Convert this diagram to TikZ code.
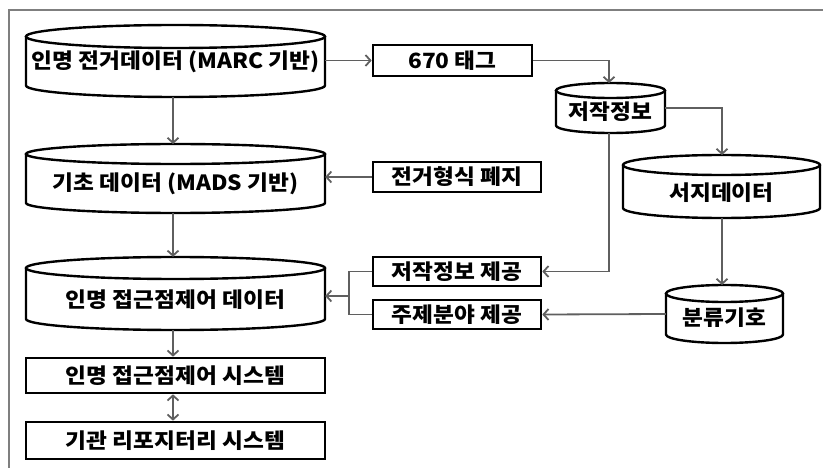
\documentclass[tikz,border=0pt]{standalone}
\usepackage{fontspec}
\setmainfont{Noto Sans CJK KR}[FakeStretch=1.08]
\usetikzlibrary{arrows.meta,calc}
\definecolor{conncol}{HTML}{5F5F5F}
\definecolor{framecol}{HTML}{7F7F7F}
\tikzset{
  lbl/.style={inner sep=0pt, font=\bfseries\fontsize{21}{23}\selectfont},
  rbox/.style={draw=black, line width=2.6pt, fill=white, inner sep=0pt, font=\bfseries\fontsize{21}{23}\selectfont},
  cylline/.style={draw=black, line width=2.4pt},
  conn/.style={draw=conncol, line width=1.8pt, -{Straight Barb[length=5pt,width=11pt,line width=1.8pt]}},
  conn2/.style={draw=conncol, line width=1.8pt, {Straight Barb[length=5pt,width=11pt,line width=1.8pt]}-{Straight Barb[length=5pt,width=11pt,line width=1.8pt]}},
  line/.style={draw=conncol, line width=1.8pt},
  framel/.style={draw=framecol, line width=1.2pt}
}
\newcommand\dbcyl[8]{%
  \pgfmathsetmacro\cxA{(#2+#3)/2}%
  \pgfmathsetmacro\rxA{(#3-#2)/2}%
  \pgfmathsetmacro\ytA{#4+#6}%
  \pgfmathsetmacro\ybA{#5-#6}%
  \pgfmathsetmacro\ymA{(#4+#5)/2}%
  \pgfmathsetmacro\hA{#5-#4}%
  \pgfmathsetmacro\wA{#3-#2}%
  \draw[cylline] (#2,\ytA) -- (#2,\ybA) arc[start angle=180,end angle=360,x radius=\rxA pt,y radius=#6pt] -- (#3,\ytA);
  \draw[cylline] (\cxA,\ytA) ellipse[x radius=\rxA pt, y radius=#6pt];
  \node[inner sep=0pt, minimum width=\wA pt, minimum height=\hA pt] (#1) at (\cxA,\ymA) {};
  \node[lbl] (#1-t) at (\cxA,#7) {#8};
}
\begin{document}
\begin{tikzpicture}[x=1pt,y=-1pt]
\useasboundingbox (0,0) rectangle (823,468);
\draw[framel] (9,470) -- (9,10) -- (825,10);

% cylinders
\dbcyl{c1}{26}{325}{25}{97}{11.5}{62}{인명 전거데이터 (MARC 기반)}
\dbcyl{c2}{26}{325}{144}{213}{10}{184}{기초 데이터 (MADS 기반)}
\dbcyl{c3}{26}{325}{257}{330}{11}{300}{인명 접근점제어 데이터}
\dbcyl{c4}{556}{665}{83}{133}{7.5}{112}{저작정보}
\dbcyl{c5}{623}{820}{155}{218}{10}{193}{서지데이터}
\dbcyl{c6}{666}{783}{285}{343}{8.5}{318}{분류기호}

% boxes
\node[rbox, minimum width=159pt, minimum height=31pt] (tag) at (452.5,60.5) {670 태그};
\node[rbox, minimum width=168pt, minimum height=30pt] (abol) at (457,177) {전거형식 폐지};
\node[rbox, minimum width=168pt, minimum height=29pt] (wprov) at (457,271.5) {저작정보 제공};
\node[rbox, minimum width=168pt, minimum height=29pt] (sprov) at (457,314.5) {주제분야 제공};
\node[rbox, minimum width=299pt, minimum height=35pt] (sys1) at (175.5,375.5) {인명 접근점제어 시스템};
\node[rbox, minimum width=299pt, minimum height=37pt] (sys2) at (175.5,440.5) {기관 리포지터리 시스템};

\coordinate (jn) at (349,296);

% connectors
\draw[conn] (173,97) -- (173,144);
\draw[conn] (c2.south -| 173,0) -- (c3.north -| 173,0);
\draw[conn] (c3.south -| 173,0) -- (sys1.north -| 173,0);
\draw[conn2] (sys1.south -| 173,0) -- (sys2.north -| 173,0);
\draw[conn] (c1.east |- tag.west) -- (tag.west);
\draw[conn] (tag.east) -| (609,83);
\draw[conn] (c4.east) -| (722,155);
\draw[conn] (722,218) -- (722,285);
\draw[conn] (609,133) |- (wprov.east);
\draw[conn] (c6.west) -- (sprov.east);
\draw[conn] (abol.west) -- (abol.west -| c2.east);
\draw[line] (wprov.west) -| (jn |- sprov.west) -- (sprov.west);
\draw[conn] (jn) -- (jn -| c3.east);
\end{tikzpicture}
\end{document}
